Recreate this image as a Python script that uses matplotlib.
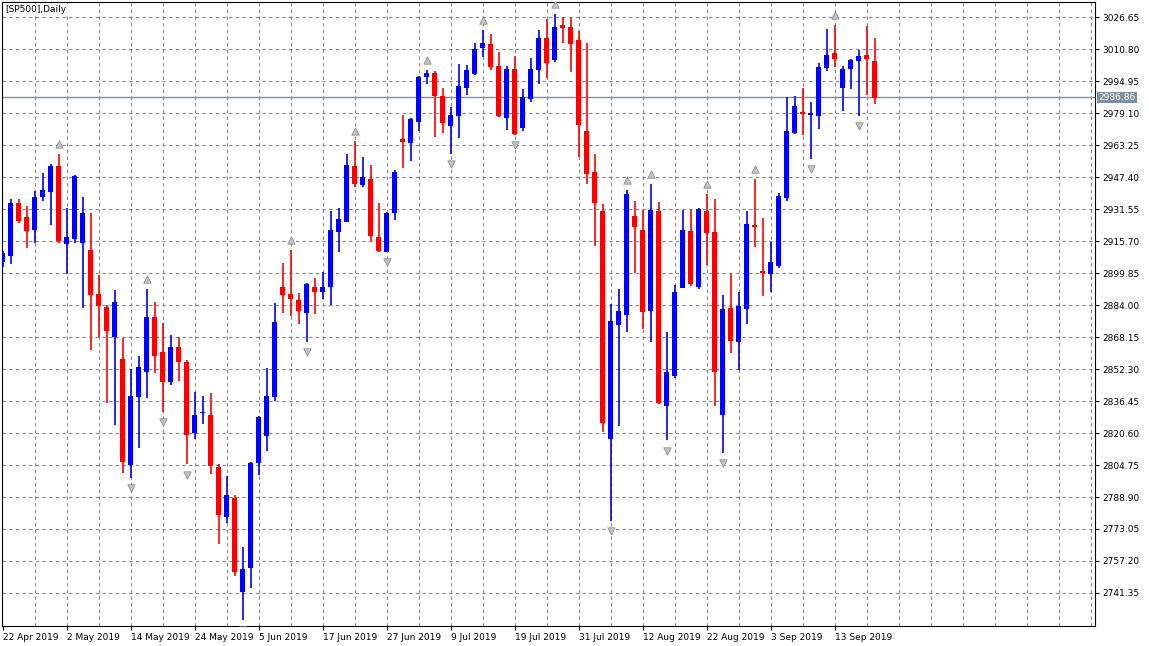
import matplotlib
matplotlib.use("Agg")
import matplotlib.pyplot as plt
import pandas as pd
import numpy as np

dates = pd.bdate_range("2019-04-22", periods=110)

opens = [2905.5,2908.4,2934.5,2927.6,2921.3,2937.7,2940.2,2952.9,2914.4,2916.9,
         2914.7,2911.2,2889.4,2883.0,2868.3,2857.3,2804.75,2838.4,2851.0,2878.2,
         2860.9,2846.1,2863.4,2856.0,2820.5,2830.5,2829.7,2803.8,2778.9,2788.6,
         2741.8,2753.7,2805.8,2819.0,2838.5,2893.1,2889.7,2886.7,2879.9,2892.7,
         2890.3,2892.8,2920.0,2925.3,2953.0,2943.3,2946.6,2917.9,2910.1,2929.5,
         2966.4,2964.1,2974.9,2996.8,2998.9,2987.5,2972.9,2977.8,2991.5,2998.4,
         3011.5,3013.3,3002.4,2976.8,3000.9,2971.9,2986.2,3000.4,3016.3,3005.4,
         3022.7,3021.7,3015.3,2970.2,2949.9,2930.6,2817.5,2874.3,2879.2,2928.1,
         2921.2,2881.2,2930.6,2834.2,2849.0,2892.6,2920.7,2893.1,2930.6,2920.2,
         2829.7,2882.6,2865.9,2882.1,2923.5,2900.8,2899.6,2903.4,2937.0,2969.2,
         2979.6,2978.1,2977.6,3001.4,3008.8,2991.5,3000.9,3004.9,3007.8,3004.9]
closes = [2909.6,2934.5,2925.8,2920.8,2937.5,2941.0,2952.9,2915.7,2917.7,2947.9,
          2929.6,2889.1,2883.7,2871.3,2885.5,2806.4,2838.9,2853.3,2878.1,2858.9,
          2845.7,2863.4,2855.6,2819.5,2829.7,2831.2,2804.1,2779.9,2790.1,2751.7,
          2753.0,2805.5,2828.7,2839.1,2875.8,2888.8,2886.9,2880.9,2894.6,2890.3,
          2892.7,2921.4,2926.8,2953.5,2944.1,2947.3,2918.1,2910.6,2929.5,2950.1,
          2964.6,2976.3,2997.1,2999.1,2987.7,2974.3,2978.1,2992.5,3000.4,3010.8,
          3013.8,3001.9,2977.6,3000.9,2968.9,2987.0,3000.9,3016.3,3003.9,3021.7,
          3021.2,3013.3,2973.2,2949.1,2934.7,2825.8,2876.1,2881.1,2939.0,2922.8,
          2880.7,2931.1,2835.7,2850.9,2890.5,2921.2,2894.6,2931.55,2919.8,2851.0,
          2882.1,2866.4,2883.6,2924.2,2922.7,2900.0,2905.4,2938.0,2970.2,2982.6,
          2978.6,2979.0,3001.9,3007.8,3005.9,3000.9,3005.4,3007.3,3005.9,2986.6]
highs = [2911.0,2936.5,2936.5,2933.0,2940.5,2949.4,2953.8,2958.8,2932.2,2948.4,
         2937.5,2929.6,2898.9,2884.0,2891.4,2867.8,2852.5,2858.6,2891.9,2885.7,
         2875.3,2869.3,2868.3,2857.0,2841.1,2839.1,2840.6,2805.3,2799.2,2790.1,
         2763.9,2806.0,2829.0,2853.0,2885.2,2905.0,2911.1,2890.0,2895.1,2897.6,
         2900.3,2930.8,2932.3,2959.0,2965.4,2957.5,2953.5,2934.7,2930.0,2951.1,
         2978.3,2976.8,2997.6,3000.6,2999.9,2991.5,2982.3,3003.4,3002.9,3013.8,
         3020.2,3018.2,3009.3,3002.4,3007.3,2991.0,3006.3,3020.2,3025.7,3028.1,
         3026.65,3026.2,3019.7,3013.8,2959.0,2934.0,2884.5,2891.9,2941.0,2935.5,
         2931.1,2943.9,2935.0,2870.7,2893.9,2931.1,2931.1,2932.0,2939.0,2936.5,
         2889.0,2899.6,2890.5,2930.6,2946.5,2927.2,2915.3,2939.5,2987.0,2987.5,
         2991.5,2984.6,3003.9,3020.7,3022.7,3002.4,3005.9,3010.3,3022.2,3016.3]
lows = [2903.0,2904.4,2924.6,2912.2,2914.5,2935.7,2923.6,2914.7,2899.4,2914.7,
        2882.7,2861.9,2868.2,2835.6,2824.6,2801.0,2798.2,2813.3,2838.1,2850.5,
        2830.9,2844.6,2846.6,2805.0,2817.8,2825.3,2800.2,2765.5,2775.9,2749.7,
        2728.2,2743.7,2800.0,2811.6,2836.5,2879.9,2878.5,2874.5,2865.6,2879.5,
        2886.9,2883.9,2910.5,2925.3,2942.6,2942.6,2915.6,2910.1,2910.1,2926.0,
        2951.7,2955.2,2970.0,2993.3,2967.4,2969.4,2958.8,2966.9,2988.2,2997.9,
        3006.8,3000.4,2977.1,2970.9,2968.4,2970.4,2984.7,2993.5,2996.5,3004.4,
        3013.8,2999.4,2957.5,2944.1,2913.2,2821.3,2777.1,2824.3,2870.8,2899.7,
        2872.3,2865.9,2835.2,2816.9,2848.0,2892.6,2893.6,2892.1,2904.0,2834.2,
        2810.9,2860.0,2851.9,2874.5,2912.8,2888.7,2890.4,2902.1,2935.6,2968.7,
        2968.1,2956.4,2971.2,2999.9,3001.9,2980.1,2991.0,2977.6,2988.0,2983.6]
fractal_up = [7, 18, 36, 44, 53, 60, 69, 78, 81, 88, 94, 104]
fractal_down = [16, 20, 23, 30, 38, 48, 56, 64, 76, 83, 90, 101, 107]
price_ticks = [2741.35, 2757.20, 2773.05, 2788.90, 2804.75, 2820.60, 2836.45, 2852.30,
               2868.15, 2884.00, 2899.85, 2915.70, 2931.55, 2947.40, 2963.25, 2979.10,
               2994.95, 3010.80, 3026.65]
last_price = 2986.86
title = "[SP500],Daily"

fig = plt.figure(figsize=(11.49, 6.46), dpi=100)
ax = fig.add_axes([2/1149, 1-626/646, (1095-2)/1149, 624/646])
x = np.arange(len(opens))
o = np.array(opens); c = np.array(closes); h = np.array(highs); l = np.array(lows)
col = np.where(c >= o, "#0000ff", "#ff0000")
ax.vlines(x, l, h, colors=col, linewidth=1.2, zorder=3)
ax.bar(x, np.maximum(np.abs(c - o), 0.6), bottom=np.minimum(o, c), width=0.62, color=col, zorder=4)

ax.scatter(x[fractal_up], h[fractal_up] + 5, marker="^", s=28, color="#c4c4c4", edgecolors="#808080", linewidths=0.5, zorder=5)
ax.scatter(x[fractal_down], l[fractal_down] - 5, marker="v", s=28, color="#c4c4c4", edgecolors="#808080", linewidths=0.5, zorder=5)

ax.axhline(last_price, color="#8090a0", linewidth=1, zorder=2)

ax.set_xlim(-0.1, 136.5)
ax.set_ylim(2725.0, 3034.1)
ax.set_yticks(price_ticks)
ax.set_yticklabels([f"{p:.2f}" for p in price_ticks])
ax.yaxis.tick_right()
ax.tick_params(axis="y", labelsize=6.5, length=3, pad=2, colors="black")
xt = list(range(0, 110, 8))
ax.set_xticks(xt)
ax.set_xticklabels([f"{dates[i].day} {dates[i].strftime('%b %Y')}" for i in xt], ha="left")
ax.tick_params(axis="x", labelsize=6.5, length=3, pad=2)
ax.grid(False)
for g in range(4, 137, 4):
    ax.axvline(g, color="#7a8694", linestyle=(0, (3, 3)), linewidth=0.8, zorder=1)
for p in price_ticks:
    ax.axhline(p, color="#7a8694", linestyle=(0, (3, 3)), linewidth=0.8, zorder=1)
for s in ax.spines.values():
    s.set_color("black")
ax.text(0.003, 0.995, title, transform=ax.transAxes, fontsize=6.5, va="top", ha="left",
        bbox=dict(facecolor="white", edgecolor="none", pad=1), zorder=6)
ax.text(1.003, last_price, f"{last_price:.2f}", transform=ax.get_yaxis_transform(), fontsize=6.5,
        va="center", ha="left", color="white", bbox=dict(facecolor="#8090a0", edgecolor="none", pad=1))
fig.savefig("out.png", dpi=100)
